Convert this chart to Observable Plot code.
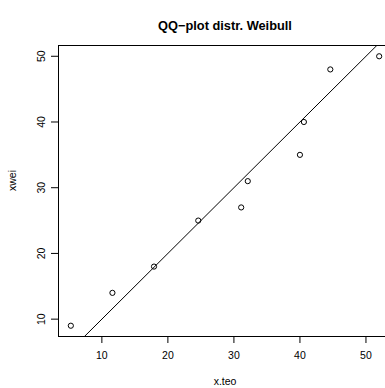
<!DOCTYPE html>
<html>
<head>
<meta charset="utf-8">
<script src="https://cdn.jsdelivr.net/npm/d3@7"></script>
<script src="https://cdn.jsdelivr.net/npm/@observablehq/plot@0.6"></script>
<style>
  html, body { margin: 0; padding: 0; background: #fff; }
  svg { display: block; overflow: hidden; }
</style>
</head>
<body>
<div id="chart"></div>
<script>
// theoretical Weibull quantiles (x.teo) and observed sorted values (xwei)
const xTeo = [5.3, 11.6, 17.9, 24.6, 31.1, 32.1, 40.0, 40.6, 44.6, 52.0];
const xWei = [9, 14, 18, 25, 27, 31, 35, 40, 48, 50];
const xTicks = [10, 20, 30, 40, 50];
const yTicks = [10, 20, 30, 40, 50];
const refIntercept = 0;
const refSlope = 1;
const title = "QQ\u2212plot distr. Weibull";
const xLabel = "x.teo";
const yLabel = "xwei";

const points = xTeo.map((x, i) => ({x, y: xWei[i]}));

// R-style 4% padded ranges
function pad(vals) {
  const lo = d3.min(vals), hi = d3.max(vals), r = hi - lo;
  return [lo - 0.04 * r, hi + 0.04 * r];
}
const xDom = pad(xTeo);
const yDom = pad(xWei);
const lineData = [xDom[0] - 10, xDom[1] + 10].map(x => ({x, y: refIntercept + refSlope * x}));

const font = "Liberation Sans, Arial, Helvetica, sans-serif";

const chart = Plot.plot({
  width: 385,
  height: 388,
  marginLeft: 58,
  marginRight: -6,
  marginTop: 45,
  marginBottom: 52,
  style: {fontFamily: font, fontSize: "10px", color: "#000", background: "#fff"},
  x: {domain: xDom},
  y: {domain: yDom},
  marks: [
    Plot.line(lineData, {x: "x", y: "y", stroke: "#000", strokeWidth: 1, clip: true}),
    Plot.dot(points, {x: "x", y: "y", r: 2.6, stroke: "#000", strokeWidth: 1, fill: "none"}),
    Plot.frame({stroke: "#000", strokeWidth: 1}),
    Plot.axisX({ticks: xTicks, tickSize: 7, tickPadding: 8, label: null, fontSize: 10.5, tickFormat: d => d}),
    Plot.axisY({ticks: yTicks, tickSize: 7, tickPadding: 7, label: null, tickRotate: -90, fontSize: 10.5, tickFormat: d => d}),
    Plot.text([xLabel], {frameAnchor: "bottom", dy: 48, text: d => d, fontSize: 10.5}),
    Plot.text([yLabel], {frameAnchor: "left", dx: -46, rotate: -90, text: d => d, fontSize: 10.5}),
    Plot.text([title], {frameAnchor: "top", dy: -25, text: d => d, fontSize: 12.8, fontWeight: "bold"})
  ]
});
document.getElementById("chart").appendChild(chart);
</script>
</body>
</html>
